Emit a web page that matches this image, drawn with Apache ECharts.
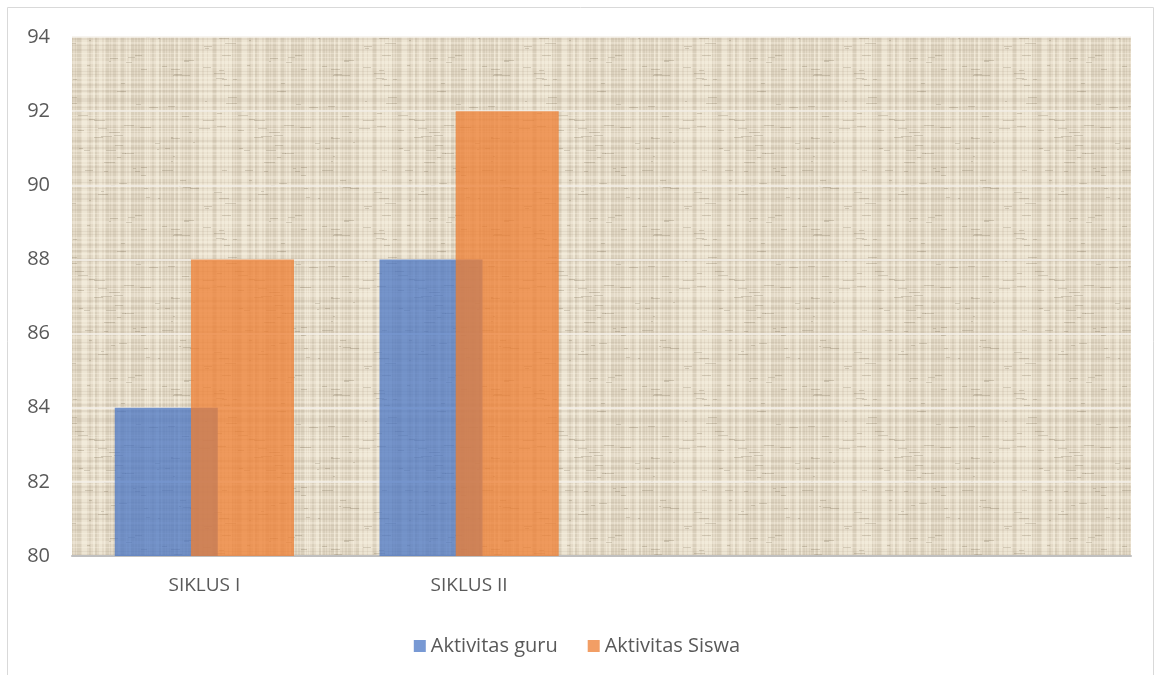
<!DOCTYPE html>
<html>
<head>
<meta charset="utf-8">
<script src="https://cdn.jsdelivr.net/npm/echarts@6/dist/echarts.min.js"></script>
<style>
  html, body { margin: 0; padding: 0; background: #fff; }
  #chart { width: 1154px; height: 675px; }
</style>
</head>
<body>
<div id="chart"></div>
<script>
var categories = ['SIKLUS I', 'SIKLUS II', '', '']
var guru = [84, 88, null, null]
var siswa = [88, 92, null, null]
var yTicks = { min: 80, max: 94, step: 2 }

// linen-like texture for the plot area
function makeLinen () {
  var c = document.createElement('canvas')
  c.width = 160
  c.height = 160
  var g = c.getContext('2d')
  g.fillStyle = '#e4dac7'
  g.fillRect(0, 0, 160, 160)
  var seed = 11
  function rnd () { seed = (seed * 16807) % 2147483647; return seed / 2147483647 }
  var x = 0
  while (x < 160) {
    var w = 1 + Math.floor(rnd() * 3)
    g.fillStyle = rnd() > 0.5 ? 'rgba(255,250,235,0.35)' : 'rgba(130,115,90,0.1)'
    g.fillRect(x, 0, w, 160)
    x += w + Math.floor(rnd() * 3)
  }
  var y = 0
  while (y < 160) {
    var hh = 1 + Math.floor(rnd() * 2)
    g.fillStyle = rnd() > 0.5 ? 'rgba(255,250,235,0.3)' : 'rgba(130,115,90,0.09)'
    g.fillRect(0, y, 160, hh)
    y += hh + Math.floor(rnd() * 4)
  }
  for (var k = 0; k < 90; k++) {
    g.fillStyle = 'rgba(105,90,65,0.22)'
    g.fillRect(Math.floor(rnd() * 160), Math.floor(rnd() * 160), Math.floor(rnd() * 10) + 2, 1)
  }
  return c
}

var myChart = echarts.init(document.getElementById('chart'))
var font = '"Open Sans", Lato, sans-serif'
myChart.setOption({
  animation: false,
  textStyle: { fontFamily: font },
  graphic: [{
    type: 'rect',
    shape: { x: 7.5, y: 7.5, width: 1146, height: 700 },
    style: { fill: 'none', stroke: '#d9d9d9', lineWidth: 1 },
    silent: true
  }],
  grid: {
    left: 72,
    right: 23,
    top: 37,
    bottom: 119,
    show: true,
    borderWidth: 0,
    backgroundColor: { image: makeLinen(), repeat: 'repeat' }
  },
  legend: {
    top: 631,
    left: 'center',
    itemWidth: 12,
    itemHeight: 12,
    itemGap: 30,
    icon: 'rect',
    textStyle: { fontSize: 20, color: '#595959', fontFamily: font },
    data: ['Aktivitas guru', 'Aktivitas Siswa']
  },
  xAxis: {
    type: 'category',
    data: categories,
    axisTick: { show: false },
    axisLine: { lineStyle: { color: '#bfbfbf', width: 2 } },
    axisLabel: { color: '#595959', fontSize: 19, margin: 20, fontFamily: font }
  },
  yAxis: {
    type: 'value',
    min: yTicks.min,
    max: yTicks.max,
    interval: yTicks.step,
    axisLine: { show: false },
    axisTick: { show: false },
    axisLabel: { color: '#595959', fontSize: 20, margin: 22, fontFamily: font },
    splitLine: { lineStyle: { color: '#f4f1ea', width: 1.5 } }
  },
  series: [{
    name: 'Aktivitas guru',
    type: 'bar',
    data: guru,
    barWidth: 103,
    barGap: '-26%',
    itemStyle: { color: '#4472C4', opacity: 0.72 }
  }, {
    name: 'Aktivitas Siswa',
    type: 'bar',
    data: siswa,
    barWidth: 103,
    barGap: '-26%',
    itemStyle: { color: '#ED7D31', opacity: 0.75 }
  }]
})
</script>
</body>
</html>
